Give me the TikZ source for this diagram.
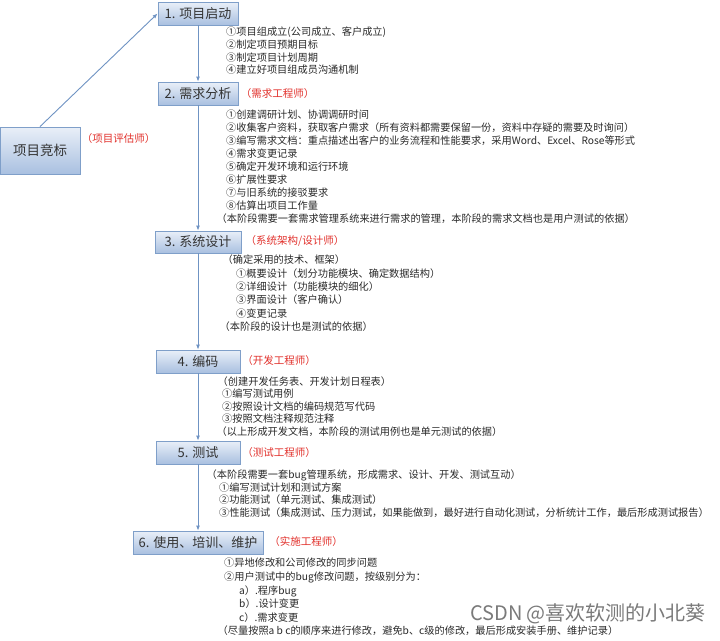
\documentclass[tikz,border=0pt]{standalone}
\usepackage{fontspec}
\setmainfont{Noto Sans CJK SC}
\usetikzlibrary{arrows.meta}
\definecolor{linec}{HTML}{6F93C3}
\definecolor{boxtop}{HTML}{E9EFF8}
\definecolor{boxbot}{HTML}{A9C0E0}
\definecolor{boxline}{HTML}{7F9FC9}
\definecolor{boxtext}{HTML}{333333}
\definecolor{textc}{HTML}{2A2A2A}
\definecolor{labred}{HTML}{E2312C}
\definecolor{wmark}{HTML}{7A7A7A}
\tikzset{
  phase/.style={draw=boxline, line width=0.8pt, top color=boxtop, bottom color=boxbot,
    text=boxtext, font=\fontsize{13}{15}\selectfont, minimum height=23pt, inner sep=0pt},
  txt/.style={anchor=west, inner sep=0pt, text height=9pt, text depth=1.2pt,
    font=\fontsize{10.2}{12}\selectfont, text=textc},
  lab/.style={inner sep=0pt, text=labred, font=\fontsize{10.5}{12}\selectfont},
  conn/.style={draw=linec, line width=0.9pt, -{Latex[length=5pt,width=4pt]}}
}
\begin{document}
\begin{tikzpicture}[x=1pt,y=-1pt]
\useasboundingbox (0,0) rectangle (720,640);
\fill[white] (0,0) rectangle (720,640);

% phase boxes
\node[phase, minimum width=80pt, minimum height=47pt, font=\fontsize{13.5}{15}\selectfont] (b0) at (40,150.5) {项目竞标};
\node[phase, minimum width=80pt] (b1) at (198,13.5) {1. 项目启动};
\node[phase, minimum width=80pt] (b2) at (198,93.5) {2. 需求分析};
\node[phase, minimum width=86pt, minimum height=22pt] (b3) at (198,242) {3. 系统设计};
\node[phase, minimum width=84pt] (b4) at (198,361.5) {4. 编码};
\node[phase, minimum width=84pt] (b5) at (198,452.5) {5. 测试};
\node[phase, minimum width=130pt] (b6) at (198,542.5) {6. 使用、培训、维护};

% connectors
\draw[conn] (b0.north) -- (b1.west);
\draw[conn] (b1) -- (b2);
\draw[conn] (b2) -- (b3);
\draw[conn] (b3) -- (b4);
\draw[conn] (b4) -- (b5);
\draw[conn] (b5) -- (b6);

% role labels
\node[lab] (r0) at (118.5,139) {（项目评估师）};
\node[lab] (r2) at (277.5,94) {（需求工程师）};
\node[lab] (r3) at (295,240.5) {（系统架构/设计师）};
\node[lab] (r4) at (279,360.5) {（开发工程师）};
\node[lab] (r5) at (279,453) {（测试工程师）};
\node[lab] (r6) at (306,542) {（实施工程师）};

% block 1
\node[txt] (t1a) at (226,32) {①项目组成立(公司成立、客户成立)};
\node[txt] (t1b) at (226,45) {②制定项目预期目标};
\node[txt] (t1c) at (226,57.5) {③制定项目计划周期};
\node[txt] (t1d) at (226,70) {④建立好项目组成员沟通机制};

% block 2
\node[txt] (t2a) at (226,115) {①创建调研计划、协调调研时间};
\node[txt] (t2b) at (226,128) {②收集客户资料，获取客户需求（所有资料都需要保留一份，资料中存疑的需要及时询问）};
\node[txt] (t2c) at (226,141) {③编写需求文档：重点描述出客户的业务流程和性能要求，采用Word、Excel、Rose等形式};
\node[txt] (t2d) at (226,154) {④需求变更记录};
\node[txt] (t2e) at (226,167) {⑤确定开发环境和运行环境};
\node[txt] (t2f) at (226,180) {⑥扩展性要求};
\node[txt] (t2g) at (226,193) {⑦与旧系统的接驳要求};
\node[txt] (t2h) at (226,206) {⑧估算出项目工作量};
\node[txt] (t2i) at (216.5,219) {（本阶段需要一套需求管理系统来进行需求的管理，本阶段的需求文档也是用户测试的依据）};

% block 3
\node[txt] (t3a) at (222.5,260) {（确定采用的技术、框架）};
\node[txt] (t3b) at (236,273.3) {①概要设计（划分功能模块、确定数据结构）};
\node[txt] (t3c) at (236,286.6) {②详细设计（功能模块的细化）};
\node[txt] (t3d) at (236,300) {③界面设计（客户确认）};
\node[txt] (t3e) at (236,313.3) {④变更记录};
\node[txt] (t3f) at (219.5,326.6) {（本阶段的设计也是测试的依据）};

% block 4
\node[txt] (t4a) at (217.5,382) {（创建开发任务表、开发计划日程表）};
\node[txt] (t4b) at (222,394) {①编写测试用例};
\node[txt] (t4c) at (222,406.5) {②按照设计文档的编码规范写代码};
\node[txt] (t4d) at (222,419) {③按照文档注释规范注释};
\node[txt] (t4e) at (216.5,431.5) {（以上形成开发文档，本阶段的测试用例也是单元测试的依据）};

% block 5
\node[txt] (t5a) at (206.5,475) {（本阶段需要一套bug管理系统，形成需求、设计、开发、测试互动）};
\node[txt] (t5b) at (219,487.5) {①编写测试计划和测试方案};
\node[txt] (t5c) at (219,500) {②功能测试（单元测试、集成测试）};
\node[txt] (t5d) at (219,512.5) {③性能测试（集成测试、压力测试，如果能做到，最好进行自动化测试，分析统计工作，最后形成测试报告）};

% block 6
\node[txt] (t6a) at (224,563) {①异地修改和公司修改的同步问题};
\node[txt] (t6b) at (224,577) {②用户测试中的bug修改问题，按级别分为：};
\node[txt] (t6c) at (239,591) {a）.程序bug};
\node[txt] (t6d) at (239,604) {b）.设计变更};
\node[txt] (t6e) at (239,618) {c）.需求变更};
\node[txt] (t6f) at (217.5,631) {（尽量按照a b c的顺序来进行修改，避免b、c级的修改，最后形成安装手册、维护记录）};

% watermark
\node[inner sep=0pt, text=wmark, font=\fontsize{20}{22}\selectfont] (wm) at (588,614) {CSDN @喜欢软测的小北葵};
\end{tikzpicture}
\end{document}
